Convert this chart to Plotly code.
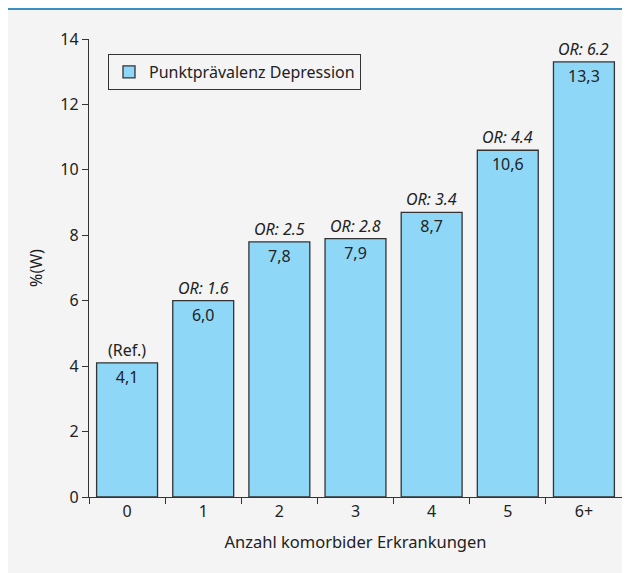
import plotly.graph_objects as go

categories = ["0", "1", "2", "3", "4", "5", "6+"]
values = [4.1, 6.0, 7.8, 7.9, 8.7, 10.6, 13.3]
value_labels = ["4,1", "6,0", "7,8", "7,9", "8,7", "10,6", "13,3"]
or_labels = ["(Ref.)", "<i>OR: 1.6</i>", "<i>OR: 2.5</i>", "<i>OR: 2.8</i>",
             "<i>OR: 3.4</i>", "<i>OR: 4.4</i>", "<i>OR: 6.2</i>"]
y_ticks = [0, 2, 4, 6, 8, 10, 12, 14]

# page has an 8px body margin; figure coordinates are page coords minus 8
OFF = 8
W, H = 630 - OFF, 573 - OFF
L, R, T, B = 89 - OFF, 8, 39 - OFF, 76
pw, ph = W - L - R, H - T - B

def px_x(p):
    return (p - OFF - L) / pw

def px_y(p):
    return (H - B - (p - OFF)) / ph

FONT = "Noto Sans"
TXT = "#222222"
FS = 16

fig = go.Figure()
fig.add_trace(go.Bar(
    x=categories, y=values, name="Punktprävalenz Depression",
    width=0.8,
    marker=dict(color="#8fd7f7", line=dict(color="#333333", width=1.3)),
    text=value_labels, textposition="inside", insidetextanchor="end",
    textfont=dict(family=FONT, size=FS, color=TXT),
    constraintext="none", cliponaxis=False, showlegend=True,
))

for c, v, t in zip(categories, values, or_labels):
    fig.add_annotation(x=c, y=v, text=t, showarrow=False, yanchor="bottom",
                       yshift=0, font=dict(family=FONT, size=FS, color=TXT))

fig.update_layout(
    width=W, height=H,
    margin=dict(l=L, r=R, t=T, b=B),
    paper_bgcolor="#f4f4f4", plot_bgcolor="#f4f4f4",
    font=dict(family=FONT, size=FS, color=TXT),
    legend=dict(x=px_x(108), y=px_y(54), xanchor="left", yanchor="top",
                bgcolor="#f4f4f4", bordercolor="#333333", borderwidth=1,
                font=dict(family=FONT, size=FS, color=TXT)),
    xaxis=dict(showline=True, linecolor="#333333", linewidth=1.3,
               ticks="outside", ticklen=6, tickcolor="#333333", tickson="boundaries",
               showgrid=False, zeroline=False,
               title=dict(text="Anzahl komorbider Erkrankungen", standoff=15,
                          font=dict(family=FONT, size=16.5, color=TXT)),
               tickfont=dict(family=FONT, size=FS, color=TXT)),
    yaxis=dict(range=[0, 14], tickvals=y_ticks, showline=True, linecolor="#333333",
               linewidth=1.3, ticks="outside", ticklen=6, tickcolor="#333333",
               showgrid=False, zeroline=False,
               title=dict(text="%(W)", standoff=13,
                          font=dict(family=FONT, size=FS, color=TXT)),
               tickfont=dict(family=FONT, size=FS, color=TXT)),
    shapes=[
        dict(type="line", xref="paper", yref="paper",
             x0=px_x(-5), x1=px_x(W + 20), y0=px_y(9), y1=px_y(9),
             line=dict(color="#3a8fc2", width=2)),
    ],
)

fig.write_html("out.html")
